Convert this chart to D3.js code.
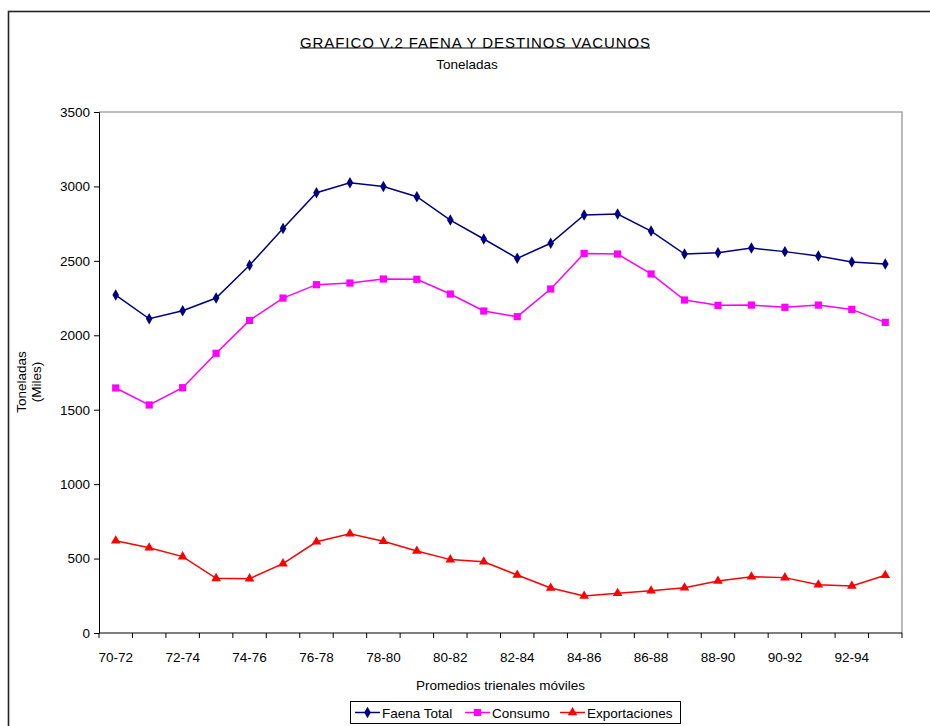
<!DOCTYPE html>
<html>
<head>
<meta charset="utf-8">
<script src="https://cdn.jsdelivr.net/npm/d3@7"></script>
<style>
  body { margin: 0; background: #fff; }
  svg { display: block; font-family: "Liberation Sans", Arial, sans-serif; }
</style>
</head>
<body>
<div id="chart"></div>
<script>
/* ── data ─────────────────────────────────────────────────── */
const periods = ['70-72','71-73','72-74','73-75','74-76','75-77','76-78','77-79',
                 '78-80','79-81','80-82','81-83','82-84','83-85','84-86','85-87',
                 '86-88','87-89','88-90','89-91','90-92','91-93','92-94','93-95'];

const faenaTotal = [2270, 2111, 2165, 2250, 2470, 2718, 2958, 3025, 3000, 2931, 2774, 2647,
                    2517, 2618, 2808, 2815, 2700, 2546, 2555, 2586, 2562, 2533, 2492, 2479];
const consumo    = [1646, 1532, 1648, 1879, 2100, 2250, 2340, 2351, 2378, 2376, 2277, 2163,
                    2125, 2311, 2550, 2546, 2412, 2237, 2201, 2203, 2188, 2203, 2174, 2087];
const exportaciones = [620, 573, 513, 367, 365, 466, 613, 667, 616, 551, 493, 478,
                       390, 302, 249, 267, 284, 304, 349, 378, 372, 324, 316, 388];

const yTicks = [0, 500, 1000, 1500, 2000, 2500, 3000, 3500];

const series = [
  { name: 'Faena Total',   values: faenaTotal,    color: '#000080', symbol: d3.symbolDiamond,  size: 38 },
  { name: 'Consumo',       values: consumo,       color: '#FF00FF', symbol: d3.symbolSquare,   size: 52 },
  { name: 'Exportaciones', values: exportaciones, color: '#FF0000', symbol: d3.symbolTriangle, size: 40 },
];

/* ── layout ───────────────────────────────────────────────── */
const W = 930, H = 726;
const PL = 99, PR = 902, PT = 112, PB = 633;

const svg = d3.select('#chart').append('svg').attr('width', W).attr('height', H);

// outer chart frame (runs off the right and bottom of the picture)
svg.append('rect')
  .attr('x', 8.5).attr('y', 11.5).attr('width', 1000).attr('height', 1000)
  .attr('fill', 'none').attr('stroke', '#222').attr('stroke-width', 1.6);

// titles
svg.append('text')
  .attr('x', 475).attr('y', 48).attr('text-anchor', 'middle')
  .attr('font-size', 15).attr('fill', '#000')
  .attr('textLength', 350).attr('lengthAdjust', 'spacing')
  .text('GRAFICO V.2 FAENA Y DESTINOS VACUNOS');
svg.append('line')
  .attr('x1', 300).attr('x2', 650).attr('y1', 48).attr('y2', 48)
  .attr('stroke', '#000').attr('stroke-width', 1);

svg.append('text')
  .attr('x', 467).attr('y', 69).attr('text-anchor', 'middle')
  .attr('font-size', 13.5).text('Toneladas');

// ── scales ───────────────────────────────────────────────────
const x = d3.scaleBand().domain(periods).range([PL, PR]).paddingInner(0).paddingOuter(0);
const y = d3.scaleLinear().domain([0, 3500]).range([PB, PT]);
const cx = d => x(d) + x.bandwidth() / 2;

// plot area border (top + right, grey)
svg.append('path')
  .attr('d', `M${PL},${PT}H${PR}V${PB}`)
  .attr('fill', 'none').attr('stroke', '#a8a8a8').attr('stroke-width', 1.6);

// y axis
const yAxisG = svg.append('g')
  .attr('transform', `translate(${PL},0)`)
  .call(d3.axisLeft(y).tickValues(yTicks).tickSize(5).tickPadding(4).tickFormat(d3.format('d')));
yAxisG.select('.domain').attr('stroke', '#000');
yAxisG.selectAll('text').attr('font-size', 13.5).attr('fill', '#000')
  .attr('font-family', '"Liberation Sans", Arial, sans-serif');

// x axis: ticks at band edges, labels on every other band
const xAxisG = svg.append('g').attr('transform', `translate(0,${PB})`);
xAxisG.append('line').attr('x1', PL).attr('x2', PR).attr('stroke', '#000');
xAxisG.selectAll('.xtick')
  .data(periods.concat(['__end']))
  .join('line').attr('class', 'xtick')
  .attr('x1', d => d === '__end' ? PR : x(d))
  .attr('x2', d => d === '__end' ? PR : x(d))
  .attr('y1', 0).attr('y2', 5).attr('stroke', '#000');
xAxisG.selectAll('.xlab')
  .data(periods.filter((d, i) => i % 2 === 0))
  .join('text').attr('class', 'xlab')
  .attr('x', cx).attr('y', 29).attr('text-anchor', 'middle')
  .attr('font-size', 13.5).text(d => d);

// axis titles
svg.append('text')
  .attr('x', (PL + PR) / 2).attr('y', 690).attr('text-anchor', 'middle')
  .attr('font-size', 13.5).text('Promedios trienales móviles');

const yt = svg.append('text')
  .attr('transform', 'translate(26,382) rotate(-90)')
  .attr('text-anchor', 'middle').attr('font-size', 13.5);
yt.append('tspan').attr('x', 0).attr('dy', 0).text('Toneladas');
yt.append('tspan').attr('x', 0).attr('dy', 15).text('(Miles)');

// ── lines + markers ──────────────────────────────────────────
const line = d3.line().x((d, i) => cx(periods[i])).y(d => y(d));

series.forEach(s => {
  svg.append('path')
    .datum(s.values)
    .attr('d', line)
    .attr('fill', 'none').attr('stroke', s.color).attr('stroke-width', 1.5);

  svg.append('g').selectAll('path')
    .data(s.values)
    .join('path')
    .attr('transform', (d, i) => `translate(${cx(periods[i])},${y(d)})`)
    .attr('d', d3.symbol(s.symbol, s.size))
    .attr('fill', s.color);
});

// ── legend ───────────────────────────────────────────────────
svg.append('rect')
  .attr('x', 350.5).attr('y', 701.5).attr('width', 330).attr('height', 22)
  .attr('fill', '#fff').attr('stroke', '#000').attr('stroke-width', 1);

const legendX = [355, 465, 560];
series.forEach((s, i) => {
  const g = svg.append('g').attr('transform', `translate(${legendX[i]},712.5)`);
  g.append('line').attr('x1', 0).attr('x2', 25)
    .attr('stroke', s.color).attr('stroke-width', 1.5);
  g.append('path').attr('transform', 'translate(12.5,0)')
    .attr('d', d3.symbol(s.symbol, s.size)).attr('fill', s.color);
  g.append('text').attr('x', 27).attr('y', 5.5)
    .attr('font-size', 13.5).text(s.name);
});
</script>
</body>
</html>
